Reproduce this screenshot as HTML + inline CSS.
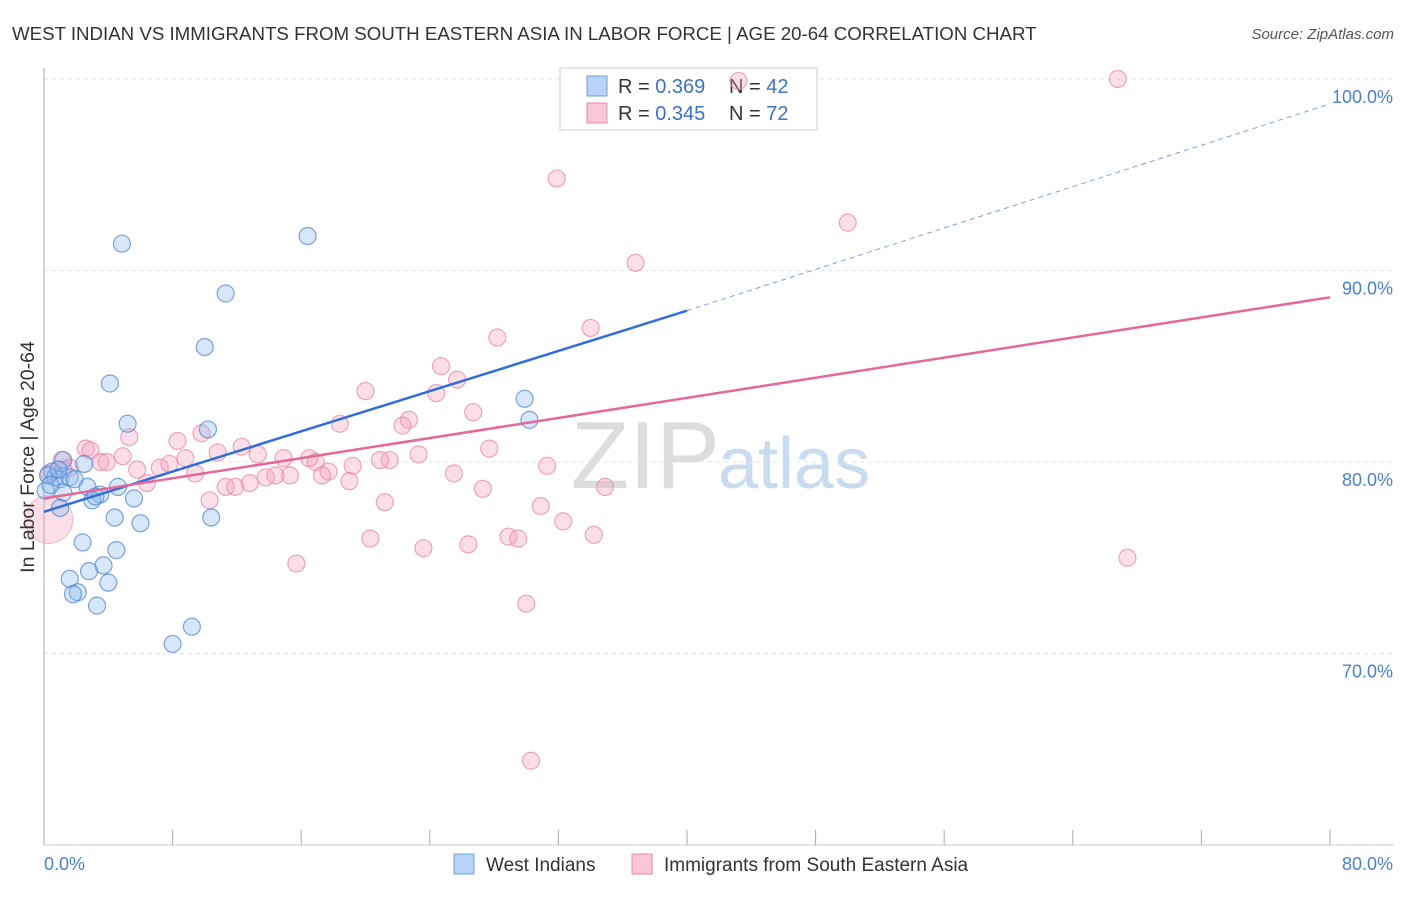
<!DOCTYPE html>
<html><head><meta charset="utf-8"><style>
body{margin:0;background:#fff;font-family:"Liberation Sans",sans-serif;}
svg text{font-family:"Liberation Sans",sans-serif;}
</style></head><body>
<svg id="chart" width="1406" height="892" xmlns="http://www.w3.org/2000/svg">
<text x="12" y="40" font-size="18.7" fill="#333">WEST INDIAN VS IMMIGRANTS FROM SOUTH EASTERN ASIA IN LABOR FORCE | AGE 20-64 CORRELATION CHART</text>
<text x="1394" y="39" font-size="15" fill="#555" font-style="italic" text-anchor="end">Source: ZipAtlas.com</text>
<text x="720" y="488" font-size="96" fill="#ddd" text-anchor="end" font-family="Liberation Serif">ZIP</text>
<text x="718" y="488" font-size="72" fill="#c9dbef">atlas</text>
<g id="grid"></g><g id="axes"></g>
<g>
<rect x="560" y="68" width="257" height="62" fill="#fff" stroke="#ccc"/>
<rect x="587" y="76" width="20" height="20" fill="#b8d3f5" stroke="#6e9fd8"/>
<rect x="587" y="103" width="20" height="20" fill="#f8c6d5" stroke="#e88aa8"/>
<text x="618" y="93" font-size="20" fill="#333">R = <tspan fill="#3a72c9">0.369</tspan></text>
<text x="729" y="93" font-size="20" fill="#333">N = <tspan fill="#3a72c9">42</tspan></text>
<text x="618" y="120" font-size="20" fill="#333">R = <tspan fill="#3a72c9">0.345</tspan></text>
<text x="729" y="120" font-size="20" fill="#333">N = <tspan fill="#3a72c9">72</tspan></text>
</g>
<g id="marks"></g>
<text transform="translate(34,457) rotate(-90)" font-size="19.5" fill="#333" text-anchor="middle">In Labor Force | Age 20-64</text>
<g>
<rect x="454" y="854" width="20" height="20" fill="#b8d3f5" stroke="#6e9fd8"/>
<text x="486" y="871" font-size="19" fill="#333">West Indians</text>
<rect x="632" y="854" width="20" height="20" fill="#f8c6d5" stroke="#e88aa8"/>
<text x="664" y="871" font-size="19" fill="#333">Immigrants from South Eastern Asia</text>
</g>
</svg>
<script>
const yTicks=[70,80,90,100];
const yTickLabels=["70.0%","80.0%","90.0%","100.0%"];
const xTicks=[0,8,16,24,32,40,48,56,64,72,80];
const blueX=[4.85,16.4,11.3,10.0,4.1,5.2,10.2,29.9,30.2,1.2,2.5,0.5,0.7,1.0,1.6,4.6,2.7,3.5,3.0,1.2,5.6,1.0,4.4,6.0,10.4,2.4,4.5,3.7,2.8,1.6,4.0,2.1,1.8,3.3,9.2,8.0,0.25,0.9,0.1,1.9,3.2,0.4];
const blueY=[91.4,91.8,88.8,86.0,84.1,82.0,81.7,83.3,82.2,80.1,79.9,79.5,79.2,79.1,79.2,78.7,78.7,78.3,78.0,78.4,78.1,77.6,77.1,76.8,77.1,75.8,75.4,74.6,74.3,73.9,73.7,73.2,73.1,72.5,71.4,70.5,79.3,79.6,78.5,79.1,78.2,78.8];
const pinkX=[43.2,66.8,31.9,50.0,36.8,28.2,34.0,24.7,25.7,20.0,24.4,26.7,22.7,22.3,18.4,5.3,8.3,9.8,2.6,2.9,12.3,10.8,13.3,27.7,21.5,23.3,1.1,3.5,3.9,4.9,5.8,7.2,7.8,8.8,9.4,14.9,16.5,16.9,17.7,19.2,20.9,31.3,25.5,13.8,15.3,14.4,17.3,19.0,6.4,11.3,11.9,12.8,10.3,21.2,27.3,34.9,30.9,32.3,20.3,23.6,26.4,28.9,29.5,34.2,15.7,30.0,30.3,67.4,1.6,1.2,0.3];
const pinkY=[99.9,100.0,94.8,92.5,90.4,86.5,87.0,85.0,84.3,83.7,83.6,82.6,82.2,81.9,82.0,81.3,81.1,81.5,80.7,80.6,80.8,80.5,80.4,80.7,80.1,80.4,80.1,80.0,80.0,80.3,79.6,79.7,79.9,80.2,79.4,80.2,80.2,80.0,79.5,79.8,80.1,79.8,79.4,79.2,79.3,79.3,79.3,79.0,78.9,78.7,78.7,78.9,78.0,77.9,78.6,78.7,77.7,76.9,76.0,75.5,75.7,76.1,76.0,76.2,74.7,72.6,64.4,75.0,79.7,79.6,79.4];
const bigPinkX=[0.3], bigPinkY=[77.0];
const blueTrend=[[0,77.4],[40,87.9],[80,98.7]];
const pinkTrend=[[0,78.1],[80,88.6]];
const NS="http://www.w3.org/2000/svg";
const X=v=>44+v*1286/80, Y=v=>79+(100-v)*19.15;
function mk(tag,attrs,parent){const e=document.createElementNS(NS,tag);for(const k in attrs)e.setAttribute(k,attrs[k]);parent.appendChild(e);return e;}
const grid=document.getElementById('grid'),axes=document.getElementById('axes'),marks=document.getElementById('marks');
yTicks.forEach((t,i)=>{
 const l=mk('line',{x1:44,x2:1394,y1:Y(t),y2:Y(t),stroke:'#e4e4e4','stroke-dasharray':'4,4'},grid);
 
 
 const tx=mk('text',{x:1393,y:Y(t)+24,'font-size':18,fill:'#4a7fd0','text-anchor':'end'},axes);
 tx.textContent=yTickLabels[i];
 
 
});
const ax=mk('line',{x1:44,x2:44,y1:68,y2:845,stroke:'#aaa'},axes);


const bx=mk('line',{x1:44,x2:1394,y1:845,y2:845,stroke:'#ccc'},axes);


xTicks.forEach(t=>{const l=mk('line',{x1:X(t),x2:X(t),y1:830,y2:845,stroke:'#aaa'},axes);
 
 });
const x0=mk('text',{x:44,y:870,'font-size':18,fill:'#4a7fd0'},axes);x0.textContent='0.0%';


const x1=mk('text',{x:1393,y:870,'font-size':18,fill:'#4a7fd0','text-anchor':'end'},axes);x1.textContent='80.0%';


bigPinkX.forEach((v,i)=>{const c=mk('circle',{cx:X(v),cy:Y(bigPinkY[i]),r:24,fill:'rgba(244,160,188,0.35)',stroke:'rgba(232,130,165,0.5)'},marks);
 
 });
pinkX.forEach((v,i)=>{const c=mk('circle',{cx:X(v),cy:Y(pinkY[i]),r:8.5,fill:'rgba(244,160,188,0.35)',stroke:'rgba(232,130,165,0.7)','stroke-width':1.2},marks);
 
 });
blueX.forEach((v,i)=>{const c=mk('circle',{cx:X(v),cy:Y(blueY[i]),r:8.5,fill:'rgba(140,185,240,0.35)',stroke:'rgba(80,135,210,0.75)','stroke-width':1.2},marks);
 
 });
const bt1=mk('line',{x1:X(blueTrend[0][0]),y1:Y(blueTrend[0][1]),x2:X(blueTrend[1][0]),y2:Y(blueTrend[1][1]),stroke:'#2f6fd6','stroke-width':2.5},marks);


const bt2=mk('line',{x1:X(blueTrend[1][0]),y1:Y(blueTrend[1][1]),x2:X(blueTrend[2][0]),y2:Y(blueTrend[2][1]),stroke:'#7aa3dd','stroke-width':1,'stroke-dasharray':'5,4'},marks);


const pt=mk('line',{x1:X(pinkTrend[0][0]),y1:Y(pinkTrend[0][1]),x2:X(pinkTrend[1][0]),y2:Y(pinkTrend[1][1]),stroke:'#e4689a','stroke-width':2.5},marks);


</script>
</body></html>
